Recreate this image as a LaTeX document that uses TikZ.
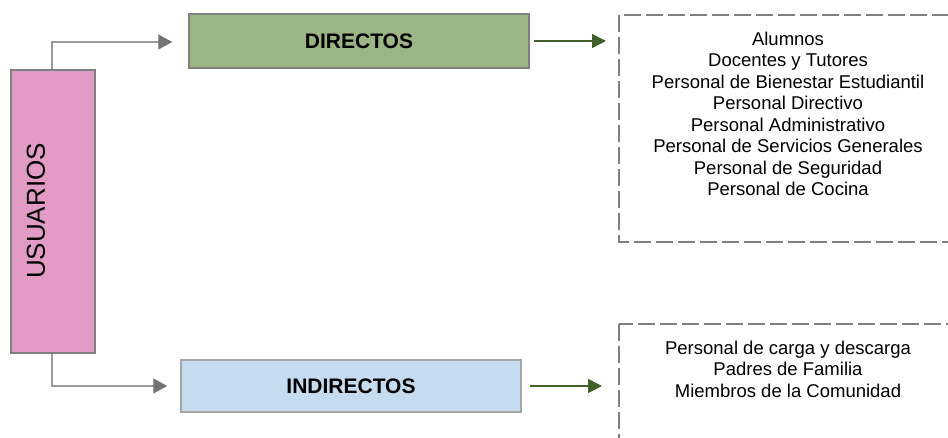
\documentclass[tikz,border=0pt]{standalone}
\usepackage{fontspec}
\setmainfont{Liberation Sans}
\usetikzlibrary{arrows.meta}
\definecolor{rosa}{HTML}{E29BC4}
\definecolor{verde}{HTML}{9BB584}
\definecolor{celeste}{HTML}{C5DBEF}
\definecolor{verdeosc}{HTML}{40612A}
\begin{document}
\begin{tikzpicture}[x=1pt,y=-1pt,
  caja/.style={draw=black!50,line width=1.5pt,minimum width=340pt,minimum height=54pt,inner sep=0pt,
    font=\bfseries\fontsize{21}{25}\selectfont},
  lista/.style={align=center,font=\fontsize{18.5}{21.5}\selectfont},
  punteado/.style={draw=black!50,line width=1.5pt,dash pattern=on 17pt off 5pt},
  flechagris/.style={draw=black!40,line width=1.3pt,-{Triangle[length=14pt,width=15pt,color=black!55]}},
  flechaverde/.style={draw=verdeosc,line width=1.5pt,-{Triangle[length=14pt,width=14pt]}}]
\useasboundingbox (0,0) rectangle (948,438);
\clip (0,0) rectangle (948,438);
\node[caja,fill=rosa,minimum width=84pt,minimum height=283pt] (usuarios) at (53,211.5) {};
\node[rotate=90,font=\fontsize{26}{30}\selectfont] (usuariostxt) at (36,211) {USUARIOS};
\node[caja,fill=verde] (directos) at (359,41) {DIRECTOS};
\node[caja,fill=celeste,draw=black!35,minimum height=52pt] (indirectos) at (351,386) {INDIRECTOS};
% listas
\draw[punteado] (619,15) rectangle (975,242);
\draw[punteado] (619,324) rectangle (975,470);
\coordinate (caja1) at (619,41);
\coordinate (caja2) at (619,386);
\node[lista] (lista1) at (788,114) {Alumnos\\Docentes y Tutores\\Personal de Bienestar Estudiantil\\Personal Directivo\\
  Personal Administrativo\\Personal de Servicios Generales\\Personal de Seguridad\\Personal de Cocina};
\node[lista] (lista2) at (788,369) {Personal de carga y descarga\\Padres de Familia\\Miembros de la Comunidad};
% conectores
\draw[flechagris] ([xshift=-1pt]usuarios.north) |- ([xshift=-16pt,yshift=-1pt]directos.west);
\draw[flechagris] ([xshift=-1pt]usuarios.south) |- ([xshift=-13pt]indirectos.west);
\draw[flechaverde] ([xshift=4pt]directos.east) -- ([xshift=-13pt]caja1);
\draw[flechaverde] ([xshift=8pt]indirectos.east) -- ([xshift=-17pt]caja2);
\end{tikzpicture}
\end{document}
